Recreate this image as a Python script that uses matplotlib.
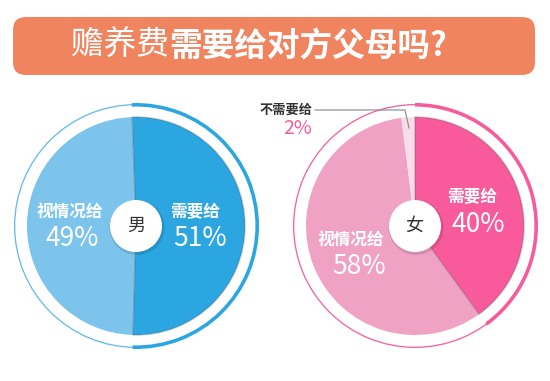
import matplotlib
matplotlib.use("Agg")
import matplotlib.pyplot as plt
from matplotlib.patches import FancyBboxPatch, Circle

plt.rcParams['font.family'] = ['Noto Sans CJK SC', 'DejaVu Sans']

# ---- data ----
title_light = "赡养费"
title_bold = "需要给对方父母吗?"
male_labels = ["需要给", "视情况给"]
male_values = [51, 49]
female_labels = ["需要给", "视情况给", "不需要给"]
female_values = [40, 58, 2]
male_center_label = "男"
female_center_label = "女"

W, H = 550, 381
fig = plt.figure(figsize=(5.5, 3.81), dpi=100)
ax = fig.add_axes([0, 0, 1, 1])

def Y(y):
    return H - y

# title box
box = FancyBboxPatch((13, Y(75)), 522, 58, boxstyle="round,pad=0,rounding_size=13",
                     fc="#F0845F", ec="none")
ax.add_patch(box)
t1 = ax.text(71, Y(46), title_light, fontsize=23.5, color="white", weight="light",
             ha="left", va="center")
ax.annotate(title_bold, xy=(1, 0.5), xycoords=t1, fontsize=23.5, color="white",
            weight="bold", ha="left", va="center")

def donut(cx, cy, values, colors, ring_light, ring_dark, startangle):
    c = (cx, Y(cy))
    # thin outer ring
    ax.pie([1], colors=[ring_light], radius=122, center=c, frame=True,
           wedgeprops=dict(width=1.3, linewidth=0))
    # thick arc for the first slice
    ax.pie([values[0], sum(values) - values[0]], colors=[ring_dark, "none"], radius=123,
           center=c, startangle=startangle, counterclock=False, frame=True,
           wedgeprops=dict(width=3.6, linewidth=0))
    wedges, _ = ax.pie(values, colors=colors, radius=109, center=c, startangle=startangle,
                       counterclock=False, frame=True, wedgeprops=dict(linewidth=0))
    wedges[0].set_edgecolor((0.3, 0.3, 0.3, 0.25))
    wedges[0].set_linewidth(1.2)
    wedges[0].set_zorder(3)
    # center disc with faint shadow
    ax.add_patch(Circle((cx + 1, Y(cy) - 1.5), 27.5, fc=(0, 0, 0, 0.12), ec="none", zorder=4))
    ax.add_patch(Circle((cx, Y(cy)), 26, fc="white", ec="none", zorder=5))

# male
donut(136, 226, male_values, ["#2CA6E0", "#7CC4EC"], "#63BBEA", "#2CA6E0", 92)
ax.text(136, Y(226), male_center_label, fontsize=13, color="#333333", ha="center",
        va="center", zorder=6)
ax.text(195, Y(212), male_labels[0], fontsize=12, color="white", weight="bold",
        ha="center", va="center", zorder=6)
ax.text(200, Y(239), f"{male_values[0]}%", fontsize=19, color="white", weight="medium",
        ha="center", va="center", zorder=6)
ax.text(70, Y(212), male_labels[1], fontsize=12, color="white", weight="bold",
        ha="center", va="center", zorder=6)
ax.text(72, Y(239), f"{male_values[1]}%", fontsize=19, color="white", weight="medium",
        ha="center", va="center", zorder=6)

# female
donut(415, 226, female_values, ["#F85A9B", "#F0A2C5", "#F8DCE8"], "#F7609E", "#F85A9B", 90)
ax.text(414, Y(226), female_center_label, fontsize=13, color="#333333", ha="center",
        va="center", zorder=6)
ax.text(472, Y(197), female_labels[0], fontsize=12, color="white", weight="bold",
        ha="center", va="center", zorder=6)
ax.text(478, Y(224), f"{female_values[0]}%", fontsize=19, color="white", weight="medium",
        ha="center", va="center", zorder=6)
ax.text(351, Y(240), female_labels[1], fontsize=12, color="white", weight="bold",
        ha="center", va="center", zorder=6)
ax.text(359, Y(267), f"{female_values[1]}%", fontsize=19, color="white", weight="medium",
        ha="center", va="center", zorder=6)
ax.text(286, Y(110), female_labels[2], fontsize=9.5, color="#333333", weight="bold",
        ha="center", va="center", zorder=6)
ax.text(312, Y(128), f"{female_values[2]}%", fontsize=14, color="#F7609E", weight="medium",
        ha="right", va="center", zorder=6)
ax.plot([315, 405, 409], [Y(110), Y(110), Y(128)], color="#888888", lw=0.8, zorder=6)

ax.set_xlim(0, W)
ax.set_ylim(0, H)
ax.set_aspect("equal")
ax.axis("off")
fig.savefig("out.png", dpi=100, facecolor="white")
